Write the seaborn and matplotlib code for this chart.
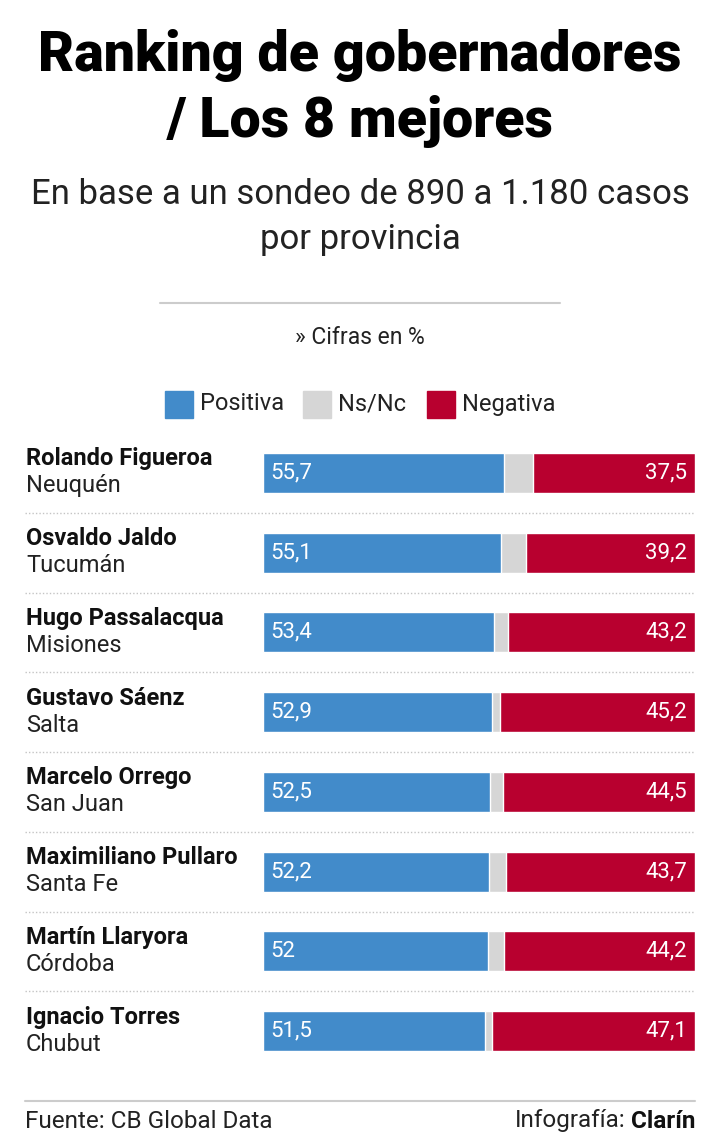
import matplotlib
matplotlib.use("Agg")
import matplotlib.pyplot as plt
from matplotlib.lines import Line2D
from matplotlib import font_manager
import pandas as pd
import seaborn as sns

names = ["Rolando Figueroa", "Osvaldo Jaldo", "Hugo Passalacqua", "Gustavo Sáenz",
         "Marcelo Orrego", "Maximiliano Pullaro", "Martín Llaryora", "Ignacio Torres"]
provinces = ["Neuquén", "Tucumán", "Misiones", "Salta",
             "San Juan", "Santa Fe", "Córdoba", "Chubut"]
positiva = [55.7, 55.1, 53.4, 52.9, 52.5, 52.2, 52.0, 51.5]
nsnc = [6.8, 5.7, 3.4, 1.9, 3.0, 4.1, 3.8, 1.4]
negativa = [37.5, 39.2, 43.2, 45.2, 44.5, 43.7, 44.2, 47.1]
pos_labels = ["55,7", "55,1", "53,4", "52,9", "52,5", "52,2", "52", "51,5"]
neg_labels = ["37,5", "39,2", "43,2", "45,2", "44,5", "43,7", "44,2", "47,1"]

BLUE = "#428bca"
GRAY = "#d6d6d6"
RED = "#b8002f"

sns.set_theme(style="white")
plt.rcParams["font.family"] = ["Roboto", "DejaVu Sans"]

df = pd.DataFrame({"name": names, "pos": positiva, "ns": nsnc, "neg": negativa})
df["pos_ns"] = df["pos"] + df["ns"]
df["total"] = df["pos_ns"] + df["neg"]

W, H = 720, 1147
fig = plt.figure(figsize=(W / 100, H / 100), dpi=100)
fig.patch.set_facecolor("white")


def fx(px):
    return px / W


def fy(py):
    return 1 - py / H


# bars area
top, bottom = 433, 1071
ax = fig.add_axes([fx(263), fy(bottom), fx(695) - fx(263), (bottom - top) / H])
sns.barplot(data=df, y="name", x="total", color=RED, width=0.5, ax=ax, saturation=1)
sns.barplot(data=df, y="name", x="pos_ns", color=GRAY, width=0.5, ax=ax, saturation=1)
sns.barplot(data=df, y="name", x="pos", color=BLUE, width=0.5, ax=ax, saturation=1)
ax.set_xlim(0, df["total"].max())
ax.set_ylim(7.5, -0.5)
ax.axis("off")

for i in range(len(names)):
    ax.text(1.8, i, pos_labels[i], color="white", fontsize=16, va="center", ha="left")
    ax.text(df["total"].max() - 1.8, i, neg_labels[i], color="white", fontsize=16,
            va="center", ha="right")
    yc = top + (i + 0.5) * (bottom - top) / 8
    fig.text(fx(26), fy(yc - 14), names[i], fontsize=17, fontweight="bold",
             color="#111111", va="center", ha="left")
    fig.text(fx(26), fy(yc + 13), provinces[i], fontsize=17, color="#222222",
             va="center", ha="left")
    if i < len(names) - 1:
        ys = top + (i + 1) * (bottom - top) / 8
        fig.add_artist(Line2D([fx(25), fx(695)], [fy(ys), fy(ys)], color="#c4c4c4",
                              lw=1, linestyle=(0, (1, 1.5)), transform=fig.transFigure))

# title and subtitle
fig.text(0.5, fy(55), "Ranking de gobernadores", fontsize=40, fontweight="black",
         ha="center", va="center", color="black")
fig.text(0.5, fy(121), "/ Los 8 mejores", fontsize=40, fontweight="black",
         ha="center", va="center", color="black")
fig.text(0.5, fy(195), "En base a un sondeo de 890 a 1.180 casos", fontsize=25,
         ha="center", va="center", color="#222222")
fig.text(0.5, fy(240), "por provincia", fontsize=25, ha="center", va="center",
         color="#222222")
fig.add_artist(Line2D([fx(160), fx(560)], [fy(303), fy(303)], color="#cccccc", lw=1.5,
                      transform=fig.transFigure))
fig.text(0.5, fy(338), "» Cifras en %", fontsize=16.5, ha="center", va="center",
         color="#222222")

# legend
legend_items = [("Positiva", BLUE, 165), ("Ns/Nc", GRAY, 303), ("Negativa", RED, 427)]
for label, col, x0 in legend_items:
    fig.patches.append(plt.Rectangle((fx(x0), fy(418)), 28 / W, 27 / H, color=col,
                                     transform=fig.transFigure, figure=fig))
    fig.text(fx(x0 + 35), fy(404), label, fontsize=17, ha="left", va="center",
             color="#222222")

# footer
fig.add_artist(Line2D([fx(25), fx(695)], [fy(1101), fy(1101)], color="#cccccc", lw=1.5,
                      transform=fig.transFigure))
fig.text(fx(25), fy(1121), "Fuente: CB Global Data", fontsize=17.5, ha="left",
         va="center", color="#222222")
brand = fig.text(fx(695), fy(1121), "Clarín", fontsize=17.5, fontweight="bold",
                 ha="right", va="center", color="#111111")
renderer = fig.canvas.get_renderer()
bb = brand.get_window_extent(renderer)
fig.text(bb.x0 / W - 5 / W, fy(1121), "Infografía:", fontsize=17.5, ha="right",
         va="center", color="#222222")

fig.savefig("out.png", dpi=100, facecolor="white")
